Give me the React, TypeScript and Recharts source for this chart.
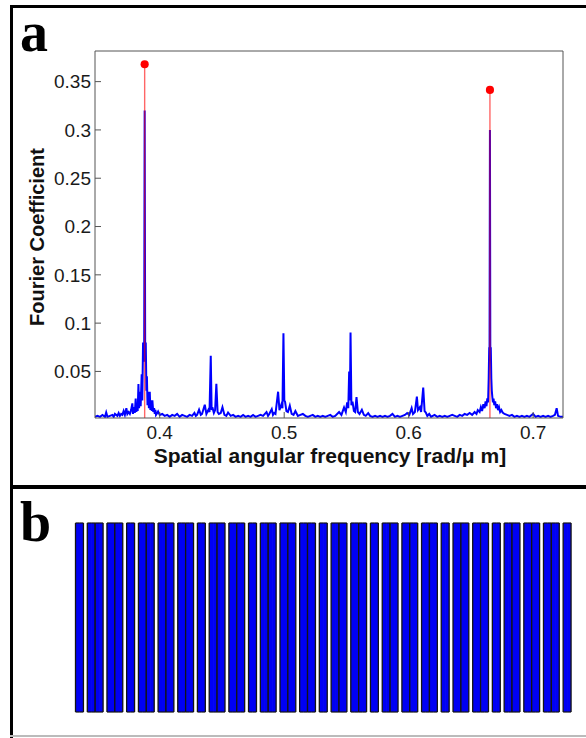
import React from 'react';
import {
  ComposedChart,
  Line,
  XAxis,
  YAxis,
  ReferenceLine,
  Scatter,
  ZAxis,
  BarChart,
  Bar,
} from 'recharts';

// ---------- Panel a : Fourier spectrum ----------
const freq = [
  0.348, 0.35, 0.352, 0.354, 0.356, 0.357, 0.358, 0.36, 0.362, 0.363, 0.364, 0.366, 0.367, 0.368, 0.369,
  0.37, 0.371, 0.372, 0.3732, 0.374, 0.375, 0.376, 0.377, 0.378, 0.3785, 0.3795, 0.38, 0.3807, 0.3812,
  0.3818, 0.3823, 0.3829, 0.3834, 0.3842, 0.3847, 0.3855, 0.386, 0.3866, 0.3871, 0.3875, 0.3879, 0.3883,
  0.3888, 0.3893, 0.3897, 0.3902, 0.3908, 0.3913, 0.392, 0.3925, 0.3932, 0.3937, 0.3941, 0.3948, 0.3955,
  0.396, 0.3965, 0.397, 0.398, 0.3987, 0.4, 0.402, 0.404, 0.406, 0.408, 0.41,
  0.412, 0.414, 0.416, 0.418, 0.42, 0.422, 0.424, 0.426, 0.4279, 0.429, 0.43, 0.4316, 0.433, 0.434, 0.4362,
  0.4375, 0.4391, 0.44, 0.441, 0.4417, 0.4423, 0.4435, 0.4445, 0.4455, 0.4465, 0.4475, 0.449, 0.4504, 0.452,
  0.4535, 0.4549, 0.457, 0.459, 0.461, 0.463, 0.465, 0.467, 0.469, 0.471, 0.473, 0.475, 0.477, 0.479, 0.481,
  0.483, 0.4858, 0.487, 0.488, 0.49, 0.491, 0.492, 0.493, 0.4951, 0.4962, 0.4978, 0.4986, 0.4994, 0.5001,
  0.5007, 0.5018, 0.503, 0.5045, 0.506, 0.5075, 0.509, 0.511, 0.513, 0.515, 0.517, 0.519, 0.521, 0.523, 0.525,
  0.527, 0.529, 0.531, 0.533, 0.535, 0.537, 0.539, 0.541, 0.5441, 0.546, 0.5481, 0.5495, 0.5506, 0.5515,
  0.5522, 0.5528, 0.5533, 0.554, 0.5549, 0.556, 0.557, 0.5581, 0.5592, 0.5605, 0.5624, 0.564, 0.5655, 0.5675,
  0.569, 0.571, 0.573, 0.575, 0.577, 0.579, 0.581, 0.583, 0.585, 0.587, 0.589, 0.591, 0.593, 0.595, 0.597,
  0.5988, 0.6005, 0.6024, 0.6035, 0.605, 0.6066, 0.6075, 0.609, 0.61, 0.6117, 0.6128, 0.6138, 0.615, 0.6165,
  0.618, 0.6208, 0.623, 0.625, 0.627, 0.629, 0.631, 0.633, 0.635, 0.637, 0.639, 0.641, 0.643, 0.645, 0.647,
  0.649, 0.651, 0.653, 0.6545, 0.6555, 0.657, 0.658, 0.659, 0.66, 0.661, 0.6618, 0.6625, 0.6632, 0.6638,
  0.6643, 0.6647, 0.665, 0.6653, 0.6656, 0.666, 0.6664, 0.6668, 0.6672, 0.6677, 0.6682, 0.6688, 0.6695,
  0.6702, 0.671, 0.6718, 0.6726, 0.6735, 0.6745, 0.6755, 0.677, 0.679,
  0.681, 0.683, 0.685, 0.687, 0.689, 0.691, 0.693, 0.695, 0.697, 0.7, 0.702, 0.704, 0.706, 0.708, 0.71, 0.712,
  0.714, 0.716, 0.7175, 0.7189, 0.72, 0.722, 0.724,
];

const amp = [
  0.003, 0.004, 0.003, 0.005, 0.003, 0.0075, 0.003, 0.004, 0.005, 0.003, 0.006, 0.004, 0.007, 0.004, 0.006,
  0.005, 0.009, 0.005, 0.012, 0.006, 0.008, 0.006, 0.01, 0.017, 0.006, 0.013, 0.007, 0.022, 0.008,
  0.015, 0.009, 0.037, 0.012, 0.029, 0.014, 0.047, 0.02, 0.079, 0.079, 0.06, 0.32, 0.079,
  0.079, 0.03, 0.045, 0.015, 0.029, 0.012, 0.029, 0.01, 0.02, 0.009, 0.02, 0.008, 0.012,
  0.006, 0.0103, 0.005, 0.007, 0.0086, 0.005, 0.006, 0.004, 0.005, 0.003, 0.005,
  0.004, 0.006, 0.003, 0.005, 0.004, 0.003, 0.005, 0.004, 0.007, 0.004, 0.005, 0.0103, 0.005, 0.006, 0.0155,
  0.006, 0.0103, 0.008, 0.0662, 0.01, 0.013, 0.007, 0.01, 0.0372, 0.008, 0.006, 0.007, 0.013, 0.005,
  0.004, 0.0075, 0.004, 0.005, 0.003, 0.004, 0.003, 0.005, 0.003, 0.004, 0.003, 0.005, 0.003, 0.004, 0.005,
  0.004, 0.008, 0.004, 0.006, 0.011, 0.005, 0.007, 0.006, 0.029, 0.01, 0.016, 0.012, 0.0896, 0.02,
  0.0186, 0.009, 0.008, 0.0145, 0.006, 0.005, 0.009, 0.004, 0.005, 0.006, 0.004, 0.003, 0.004, 0.005, 0.003,
  0.004, 0.003, 0.004, 0.003, 0.004, 0.005, 0.003, 0.004, 0.008, 0.005, 0.0127, 0.008, 0.0179, 0.012,
  0.05, 0.02, 0.0903, 0.015, 0.0186, 0.009, 0.008, 0.0235, 0.008, 0.006, 0.0103, 0.005, 0.004, 0.0069,
  0.004, 0.003, 0.004, 0.003, 0.004, 0.003, 0.004, 0.003, 0.004, 0.006, 0.003, 0.004, 0.003, 0.004, 0.005,
  0.0069, 0.005, 0.012, 0.006, 0.008, 0.024, 0.01, 0.013, 0.008, 0.0334, 0.009, 0.0075, 0.004, 0.006,
  0.003, 0.005, 0.003, 0.004, 0.003, 0.004, 0.003, 0.004, 0.005, 0.004, 0.003, 0.005, 0.004, 0.006, 0.005,
  0.007, 0.005, 0.008, 0.006, 0.01, 0.008, 0.013, 0.009, 0.016, 0.012, 0.019, 0.014, 0.022, 0.018,
  0.043, 0.074, 0.074, 0.3, 0.074, 0.074, 0.043, 0.03, 0.024, 0.018, 0.022, 0.015, 0.019,
  0.012, 0.016, 0.01, 0.013, 0.008, 0.01, 0.0075, 0.006, 0.005,
  0.004, 0.005, 0.003, 0.004, 0.003, 0.004, 0.003, 0.004, 0.003, 0.006, 0.003, 0.004, 0.003, 0.004, 0.003, 0.004,
  0.003, 0.004, 0.005, 0.012, 0.004, 0.003, 0.003,
];

const peakFreq = [0.3879, 0.6653];
const peakAmp = [0.368, 0.3414];

const xTicks = [0.4, 0.5, 0.6, 0.7];
const yTicks = [0.05, 0.1, 0.15, 0.2, 0.25, 0.3, 0.35];
const xDomain: [number, number] = [0.348, 0.724];
const yDomain: [number, number] = [0.0018, 0.3817];

const xTitle = 'Spatial angular frequency [rad/\u03bc m]';
const yTitle = 'Fourier Coefficient';

// ---------- Panel b : layer sequence of the grating ----------
const layerSequence = 'NWWNWWWNWWNWWWNWWNWWWNWWNWWWN'.split('');
// sub-layer thicknesses (grid units) of each layer type
const layerUnits: Record<string, number[]> = { N: [2], W: [2, 2] };
const gapUnits = 1;

const spectrum = freq.map((f, i) => ({ f, a: amp[i] }));
const peaks = peakFreq.map((f, i) => ({ f, a: peakAmp[i] }));

type Unit = { k: number; v: number; l: boolean; r: boolean };
const units: Unit[] = [];
layerSequence.forEach((layer, li) => {
  if (li > 0) {
    for (let g = 0; g < gapUnits; g++) units.push({ k: units.length, v: 0, l: false, r: false });
  }
  layerUnits[layer].forEach((w) => {
    for (let j = 0; j < w; j++) {
      units.push({ k: units.length, v: 1, l: j === 0, r: j === w - 1 });
    }
  });
});

const AXIS = '#555';
const FONT = '"Liberation Sans", Arial, sans-serif';
const SERIF = '"Liberation Serif", "Times New Roman", serif';

const LayerShape = (props: any) => {
  const { x, y, width, height, payload } = props;
  if (!payload || !payload.v || !height) return null;
  const edge = '#141414';
  return (
    <g>
      <rect x={x} y={y} width={width + (payload.r ? 0 : 0.6)} height={height} fill="#0000f4" />
      <line x1={x} x2={x + width} y1={y} y2={y} stroke={edge} strokeWidth={1.2} />
      <line x1={x} x2={x + width} y1={y + height} y2={y + height} stroke={edge} strokeWidth={1.2} />
      {payload.l && <line x1={x} x2={x} y1={y} y2={y + height} stroke={edge} strokeWidth={1.3} />}
      {payload.r && <line x1={x + width} x2={x + width} y1={y} y2={y + height} stroke={edge} strokeWidth={1.3} />}
    </g>
  );
};

export default function App() {
  return (
    <div
      style={{
        position: 'absolute',
        left: 0,
        top: 0,
        width: 586,
        height: 738,
        background: '#fff',
        overflow: 'hidden',
        fontFamily: FONT,
      }}
    >
      {/* frames */}
      <div style={{ position: 'absolute', left: 10, top: 5, width: 3, height: 733, background: '#000' }} />
      <div style={{ position: 'absolute', left: 10, top: 5, width: 576, height: 3, background: '#000' }} />
      <div style={{ position: 'absolute', left: 10, top: 485, width: 576, height: 4, background: '#000' }} />
      <div style={{ position: 'absolute', left: 10, top: 735, width: 576, height: 2, background: '#bbb' }} />

      {/* panel letters */}
      <div
        style={{
          position: 'absolute',
          left: 20,
          top: 4,
          fontFamily: SERIF,
          fontWeight: 'bold',
          fontSize: 56,
          lineHeight: '56px',
        }}
      >
        a
      </div>
      <div
        style={{
          position: 'absolute',
          left: 20,
          top: 494,
          fontFamily: SERIF,
          fontWeight: 'bold',
          fontSize: 56,
          lineHeight: '56px',
        }}
      >
        b
      </div>

      {/* panel a chart */}
      <div style={{ position: 'absolute', left: 0, top: 0 }}>
        <ComposedChart
          width={586}
          height={480}
          data={spectrum}
          margin={{ top: 50, right: 22, bottom: 32, left: 35 }}
        >
          <ZAxis type="number" range={[52, 52]} />
          <XAxis
            xAxisId="b"
            dataKey="f"
            type="number"
            domain={xDomain}
            ticks={xTicks}
            allowDataOverflow
            height={30}
            tickSize={-6}
            tickMargin={14}
            stroke={AXIS}
            tick={{ fill: '#1a1a1a', fontSize: 19, fontFamily: FONT }}
          />
          <XAxis
            xAxisId="t"
            orientation="top"
            dataKey="f"
            type="number"
            domain={xDomain}
            ticks={xTicks}
            allowDataOverflow
            height={1}
            tickSize={-6}
            tick={false}
            stroke={AXIS}
          />
          <YAxis
            yAxisId="l"
            type="number"
            domain={yDomain}
            ticks={yTicks}
            allowDataOverflow
            width={60}
            tickSize={-6}
            tickMargin={10}
            stroke={AXIS}
            tick={{ fill: '#1a1a1a', fontSize: 19, fontFamily: FONT }}
          />
          <YAxis
            yAxisId="r"
            orientation="right"
            type="number"
            domain={yDomain}
            ticks={yTicks}
            allowDataOverflow
            width={1}
            tickSize={-6}
            tick={false}
            stroke={AXIS}
          />
          <Line
            xAxisId="b"
            yAxisId="l"
            dataKey="a"
            type="linear"
            stroke="#0000ff"
            strokeWidth={2}
            dot={false}
            activeDot={false}
            isAnimationActive={false}
          />
          {peaks.map((p, i) => (
            <ReferenceLine
              key={i}
              xAxisId="b"
              yAxisId="l"
              segment={[
                { x: p.f, y: yDomain[0] },
                { x: p.f, y: p.a },
              ]}
              stroke="#ff0000"
              strokeOpacity={0.6}
              strokeWidth={1.4}
              ifOverflow="hidden"
            />
          ))}
          <Scatter
            xAxisId="b"
            yAxisId="l"
            data={peaks}
            dataKey="a"
            fill="#ff0000"
            isAnimationActive={false}
          />
        </ComposedChart>
      </div>

      {/* axis titles */}
      <div
        style={{
          position: 'absolute',
          left: 0,
          width: 660,
          top: 445,
          textAlign: 'center',
          fontWeight: 'bold',
          fontSize: 21,
          color: '#111',
          lineHeight: '22px',
        }}
      >
        {xTitle}
      </div>
      <div
        style={{
          position: 'absolute',
          left: 37,
          top: 237,
          transform: 'translate(-50%, -50%) rotate(-90deg)',
          whiteSpace: 'nowrap',
          fontWeight: 'bold',
          fontSize: 20,
          color: '#111',
          lineHeight: '22px',
        }}
      >
        {yTitle}
      </div>

      {/* panel b chart */}
      <div style={{ position: 'absolute', left: 0, top: 490 }}>
        <BarChart
          width={586}
          height={240}
          data={units}
          barCategoryGap={0}
          barGap={0}
          margin={{ top: 33, right: 15, bottom: 18, left: 75.5 }}
        >
          <XAxis dataKey="k" hide />
          <YAxis hide domain={[0, 1]} />
          <Bar dataKey="v" isAnimationActive={false} shape={<LayerShape />} />
        </BarChart>
      </div>
    </div>
  );
}
